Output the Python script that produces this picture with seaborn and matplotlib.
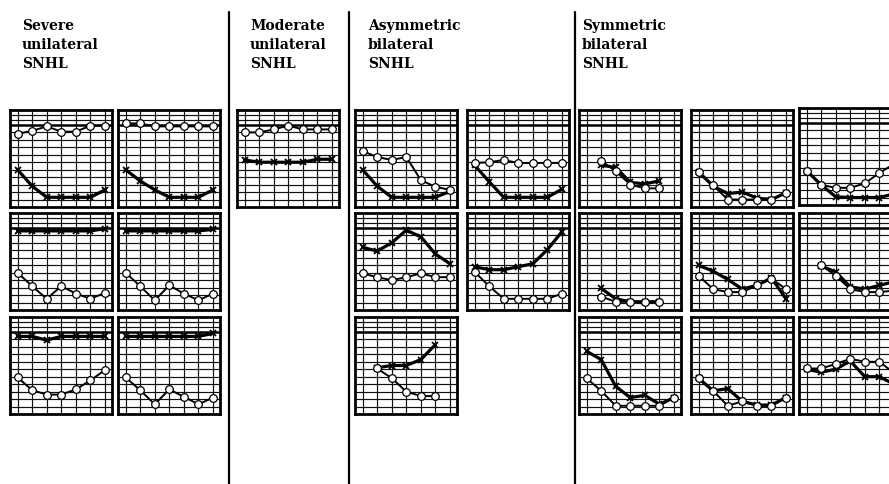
import numpy as np
import pandas as pd
import matplotlib
matplotlib.use('Agg')
import matplotlib.pyplot as plt
import seaborn as sns

sns.set_style('white')

nan = np.nan
freqs = [0, 1, 2, 3, 4, 5, 6]

group_titles = ['Severe\nunilateral\nSNHL', 'Moderate\nunilateral\nSNHL',
                'Asymmetric\nbilateral\nSNHL', 'Symmetric\nbilateral\nSNHL']

# hearing level (dB) per audiogram, o = circles, x = crosses
sev_a1_o = [12, 8, 2, 9, 9, 1, 1]
sev_a1_x = [60, 82, 97, 97, 97, 97, 87]
sev_b1_o = [-2, -2, 2, 2, 2, 2, 2]
sev_b1_x = [60, 75, 87, 97, 97, 97, 87]
sev_a2_o = [60, 78, 95, 78, 88, 95, 87]
sev_a2_x = [4, 4, 4, 4, 4, 4, 1]
sev_b2_o = [60, 78, 97, 77, 88, 97, 88]
sev_b2_x = [4, 4, 4, 4, 4, 4, 2]
sev_a3_o = [61, 78, 84, 84, 77, 65, 51]
sev_a3_x = [6, 6, 11, 6, 6, 6, 6]
sev_b3_o = [61, 78, 97, 77, 87, 97, 88]
sev_b3_x = [6, 6, 6, 6, 6, 6, 2]

mod_1_o = [10, 10, 6, 1, 6, 6, 6]
mod_1_x = [47, 50, 50, 50, 50, 46, 46]

asy_a1_o = [35, 43, 47, 43, 74, 83, 87]
asy_a1_x = [60, 82, 97, 97, 97, 97, 89]
asy_b1_o = [51, 50, 47, 51, 51, 51, 51]
asy_b1_x = [54, 76, 97, 97, 97, 97, 86]
asy_a2_o = [61, 66, 70, 66, 61, 66, 66]
asy_a2_x = [26, 31, 20, 3, 12, 35, 48]
asy_b2_o = [59, 78, 95, 95, 95, 95, 88]
asy_b2_x = [52, 56, 56, 52, 48, 29, 5]
asy_a3_o = [nan, 49, 62, 80, 86, 86, nan]
asy_a3_x = [nan, 48, 45, 45, 37, 17, nan]

sym_a1_o = [nan, 48, 62, 80, 85, 85, nan]
sym_a1_x = [nan, 54, 57, 77, 79, 75, nan]
sym_b1_o = [63, 81, 100, 100, 100, 100, 91]
sym_b1_x = [63, 82, 92, 90, 98, 100, 91]
sym_c1_o = [64, 83, 87, 87, 81, 67, 55]
sym_c1_x = [64, 83, 99, 100, 100, 100, 95]
sym_a2_o = [nan, 92, 99, 99, 99, 99, nan]
sym_a2_x = [nan, 81, 95, 99, 99, 99, nan]
sym_b2_o = [64, 82, 86, 86, 77, 68, 82]
sym_b2_x = [50, 58, 69, 82, 77, 67, 95]
sym_c2_o = [nan, 50, 64, 82, 86, 86, 84]
sym_c2_x = [nan, 51, 59, 79, 82, 77, 72]
sym_a3_o = [62, 79, 99, 99, 99, 99, 88]
sym_a3_x = [26, 37, 73, 88, 85, 97, 88]
sym_b3_o = [62, 79, 99, 93, 99, 99, 88]
sym_b3_x = [62, 79, 76, 93, 98, 98, 88]
sym_c3_o = [49, 49, 43, 36, 40, 40, 55]
sym_c3_x = [50, 54, 50, 39, 60, 60, 70]

W, H = 889, 484
fig = plt.figure(figsize=(W / 100, H / 100), dpi=100)

pw, ph = 102, 97
panels = [
    (10, 110, sev_a1_o, sev_a1_x), (118, 110, sev_b1_o, sev_b1_x),
    (10, 213, sev_a2_o, sev_a2_x), (118, 213, sev_b2_o, sev_b2_x),
    (10, 317, sev_a3_o, sev_a3_x), (118, 317, sev_b3_o, sev_b3_x),
    (237, 110, mod_1_o, mod_1_x),
    (355, 110, asy_a1_o, asy_a1_x), (467, 110, asy_b1_o, asy_b1_x),
    (355, 213, asy_a2_o, asy_a2_x), (467, 213, asy_b2_o, asy_b2_x),
    (355, 317, asy_a3_o, asy_a3_x),
    (579, 110, sym_a1_o, sym_a1_x), (691, 110, sym_b1_o, sym_b1_x),
    (799, 108, sym_c1_o, sym_c1_x),
    (579, 213, sym_a2_o, sym_a2_x), (691, 213, sym_b2_o, sym_b2_x),
    (799, 213, sym_c2_o, sym_c2_x),
    (579, 317, sym_a3_o, sym_a3_x), (691, 317, sym_b3_o, sym_b3_x),
    (799, 317, sym_c3_o, sym_c3_x),
]

grid_rows = [-13.3, -6.7] + list(range(10, 101, 10))

for left, top, o_vals, x_vals in panels:
    ax = fig.add_axes([left / W, 1 - (top + ph) / H, pw / W, ph / H])
    for v in freqs:
        ax.axvline(v, color='#111111', lw=0.85, zorder=1)
    for h in grid_rows:
        ax.axhline(h, color='#111111', lw=0.85, zorder=1)
    ax.axhline(0, color='black', lw=1.8, zorder=1)
    sns.lineplot(x=freqs, y=x_vals, ax=ax, color='black', lw=2.3,
                 marker='x', markersize=4.8, markeredgewidth=1.3,
                 markeredgecolor='black', zorder=3)
    sns.lineplot(x=freqs, y=o_vals, ax=ax, color='black', lw=1.4,
                 marker='o', markersize=5.5, markerfacecolor='white',
                 markeredgecolor='black', markeredgewidth=0.9, zorder=4)
    ax.set_xlim(-0.52, 6.48)
    ax.set_ylim(110, -20)
    ax.set_xticks([])
    ax.set_yticks([])
    ax.set_xlabel('')
    ax.set_ylabel('')
    for s in ax.spines.values():
        s.set_visible(True)
        s.set_color('black')
        s.set_linewidth(2.0)

# column dividers
for xd in [229.5, 348.5, 575]:
    fig.add_artist(plt.Line2D([xd / W, xd / W], [0, 1 - 12 / H],
                              transform=fig.transFigure, color='black', lw=1.6))

title_x = [22, 250, 368, 582]
for tx, t in zip(title_x, group_titles):
    fig.text(tx / W, 1 - 19 / H, t, ha='left', va='top', fontsize=10,
             fontweight='bold', family='DejaVu Serif', color='black',
             linespacing=1.45)

fig.savefig('out.png', dpi=100)
